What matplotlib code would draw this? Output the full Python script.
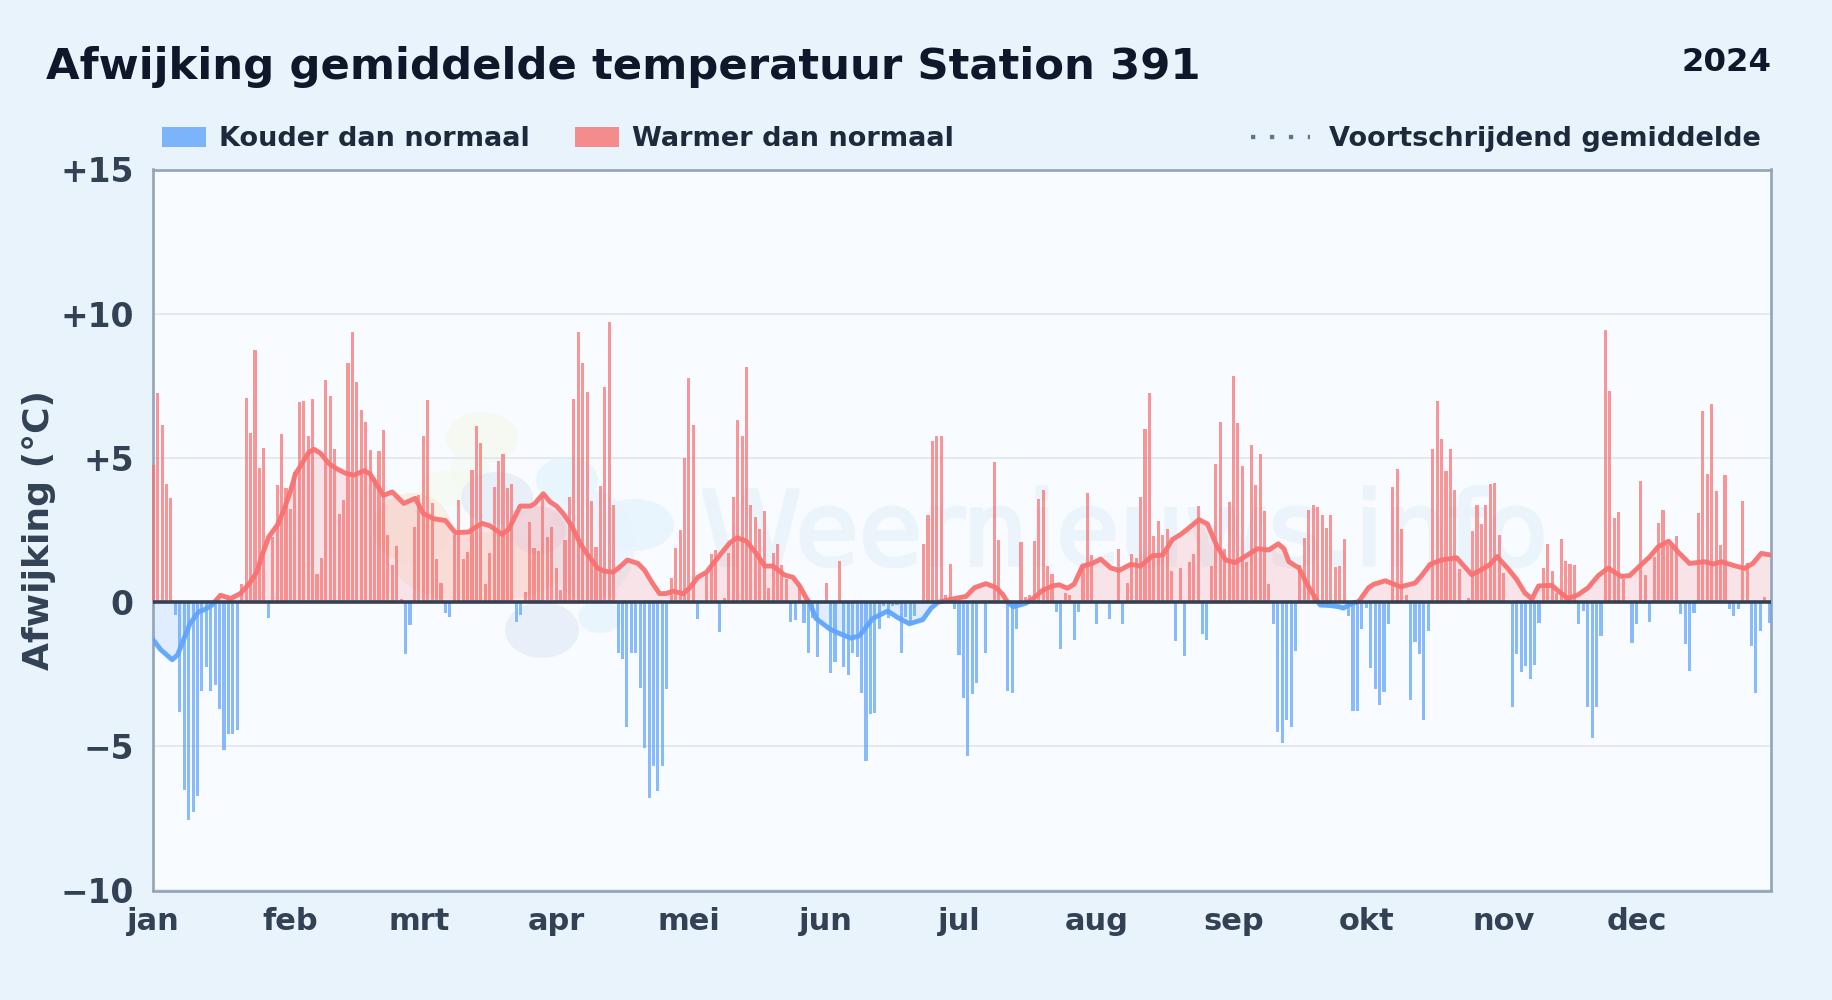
import numpy as np
import matplotlib
matplotlib.use("Agg")
import matplotlib.pyplot as plt
import matplotlib.patheffects as pe
from matplotlib.lines import Line2D
from matplotlib.patches import Ellipse, Patch, Rectangle
from matplotlib.transforms import IdentityTransform

W, H = 1832, 1000

month_labels = ["jan", "feb", "mrt", "apr", "mei", "jun", "jul", "aug", "sep", "okt", "nov", "dec"]
month_lengths = [31, 29, 31, 30, 31, 30, 31, 31, 30, 31, 30, 31]
y_ticks = [-10, -5, 0, 5, 10, 15]
y_tick_labels = ["\u221210", "\u22125", "0", "+5", "+10", "+15"]

anomaly = [
    4.76, 7.24, 6.13, 4.09, 3.60, -0.45, -3.8, -6.5, -7.55, -7.28,
    -6.72, -3.08, -2.24, -3.08, -2.88, -3.7, -5.13, -4.57, -4.57, -4.45,
    0.62, 7.06, 5.86, 8.73, 4.64, 5.33, -0.54, 2.26, 4.06, 5.82,
    3.94, 3.22, 4.5, 6.93, 6.99, 5.75, 7.04, 0.97, 1.52, 7.7,
    7.14, 5.3, 3.05, 3.53, 8.28, 9.36, 7.63, 6.67, 6.24, 5.26,
    4.3, 5.24, 5.97, 2.33, 1.29, 1.95, 0.1, -1.79, -0.79, 2.6,
    3.71, 5.75, 7.0, 3.44, 1.49, 0.66, -0.37, -0.5, 2.33, 3.53,
    1.49, 1.73, 4.57, 6.1, 5.51, 0.62, 1.69, 3.99, 4.89, 5.12,
    3.95, 4.09, -0.68, -0.45, 0.35, 2.77, 1.87, 1.77, 3.72, 2.26,
    2.6, 1.18, 0.42, 2.15, 3.64, 7.04, 9.36, 8.28, 7.28, 3.5,
    1.91, 4.02, 7.45, 9.7, 3.37, -1.77, -1.97, -4.33, -1.77, -1.77,
    -2.98, -5.05, -6.78, -5.68, -6.54, -5.7, -3.02, 0.84, 1.87, 2.49,
    4.99, 7.77, 6.13, -0.57, 0.0, 0.98, 1.66, 1.79, -1.03, 0.14,
    1.7, 3.66, 6.31, 5.75, 8.14, 3.37, 2.95, 2.53, 3.15, 0.49,
    1.69, 2.0, 1.28, 0.8, -0.69, -0.62, 0.56, -0.73, -1.77, -0.54,
    -1.91, 0.0, 0.66, -2.46, -2.06, 1.42, -2.24, -2.54, -1.77, -1.89,
    -3.14, -5.5, -3.89, -3.85, -0.93, -0.15, -0.54, -0.15, -0.1, -1.77,
    -0.5, -0.75, -0.48, 0.05, 2.0, 3.02, 5.6, 5.75, 5.75, 0.24,
    1.31, -0.25, -1.83, -3.32, -5.32, -3.17, -2.79, 0.05, -1.77, 0.0,
    4.86, 2.15, 0.0, -3.08, -3.14, -0.93, 2.08, 0.18, 0.26, 2.11,
    3.57, 3.88, 1.25, 0.97, -0.35, -1.62, 0.32, 0.26, -1.31, -0.35,
    1.3, 3.78, 1.63, -0.75, 0.0, 0.0, -0.57, 0.0, 1.84, -0.75,
    0.66, 1.66, 1.53, 3.64, 5.99, 7.24, 2.29, 2.8, 2.33, 2.53,
    1.09, -1.35, 1.18, -1.86, 1.38, 1.66, 3.33, -1.11, -1.31, 1.25,
    4.79, 6.24, 1.85, 3.46, 7.83, 6.2, 4.71, 1.4, 5.44, 4.06,
    5.13, 3.15, 0.62, -0.75, -4.52, -4.9, -4.1, -4.33, -1.68, 1.28,
    2.22, 3.19, 3.35, 3.3, 3.02, 2.57, 3.02, 1.2, 1.25, 2.18,
    -0.49, -3.76, -3.76, -0.95, -0.19, -2.3, -3.02, -3.56, -3.1, -0.75,
    3.99, 4.63, 2.53, 0.26, -3.38, -1.38, -1.79, -4.1, -0.99, 5.3,
    6.97, 5.67, 4.53, 5.3, 3.88, 1.16, 0.0, 0.14, 2.46, 3.37,
    2.71, 3.37, 4.09, 4.13, 2.33, 1.0, 0.0, -3.63, -1.79, -2.41,
    -2.21, -2.68, -2.17, -0.72, 1.18, 2.0, 1.07, 0.32, 2.18, 1.42,
    1.31, 1.29, -0.75, -0.3, -3.63, -4.7, -3.63, -1.17, 9.43, 7.31,
    2.91, 3.11, 0.8, 0.0, -1.41, -0.75, 4.19, 0.93, -0.68, 1.57,
    2.74, 3.19, 1.97, 1.92, 2.29, -0.42, -1.44, -2.38, -0.37, 3.08,
    6.62, 4.43, 6.86, 3.85, 1.97, 4.4, -0.24, -0.47, -0.23, 3.5,
    1.34, -1.51, -3.14, -0.99, 0.16, -0.72,
]

rolling_day = [
    0, 1.7, 4.3, 5.5, 6.6, 8.3, 10.3, 11.5, 13.3, 15.2, 17.5, 19.7, 21.6, 23.4, 24.6, 26.1,
    28.2, 29.5, 31, 32.1, 33.6, 35.1, 36.3, 37.8, 39.7, 41.5, 43.4, 45.3, 47.7, 49, 52, 54,
    56.6, 59.2, 61, 63.4, 66, 68.2, 71.2, 74.2, 76, 78.8, 80.3, 82.9, 85.2, 86.2, 88.1,
    89.6, 91.1, 92.6, 94.5, 96.4, 97.9, 100.5, 102, 103.9, 105.4, 107.1, 109.5, 111, 112.9,
    114.4, 115.9, 117.4, 119.7, 121.2, 123, 125, 126.5, 128.3, 130.2, 131.9, 134, 136.2,
    138.1, 140, 142.6, 144.5, 146, 147.5, 148.3, 149.7, 152.8, 155, 157.6, 159.5, 162.5,
    165.9, 168.2, 170.8, 173.8, 175.7, 177.2, 180.6, 183.6, 185.5, 188.1, 190.4, 191.9, 193,
    194.3, 197.1, 198.6, 200.9, 203.1, 204.6, 206.5, 208, 209.9, 212.1, 214, 216.3, 218.2,
    220.8, 223, 225.7, 228, 230.2, 232.1, 233.6, 236.2, 238.1, 240.3, 242.2, 244.4, 247.1,
    249.4, 252, 254.1, 255.4, 256.5, 258.8, 260.6, 262.5, 263.6, 265.9, 267.8, 268.8, 270.8,
    272.3, 274.5, 275.7, 278.3, 281.7, 285, 286.5, 288.4, 291, 294.4, 295.9, 297.8, 299.7,
    301.9, 303.5, 306, 307.9, 309.8, 311.4, 312.9, 315.9, 317.4, 319.6, 321.9, 324.1, 326.4,
    328.6, 331.6, 333.5, 335.4, 338, 339.9, 342.3, 344.4, 347, 350.4, 352.3, 354.2, 357.2,
    359.4, 361.3, 363.2, 365.4,
]
rolling_value = [
    -1.31, -1.65, -2.0, -1.83, -1.41, -0.75, -0.33, -0.27, -0.1, 0.24, 0.12, 0.3, 0.62, 1.04, 1.63, 2.26,
    2.71, 3.19, 3.84, 4.44, 4.8, 5.19, 5.3, 5.16, 4.8, 4.62, 4.47, 4.4, 4.56, 4.44, 3.7, 3.82,
    3.42, 3.6, 3.07, 2.89, 2.83, 2.41, 2.43, 2.73, 2.65, 2.35, 2.53, 3.33, 3.33, 3.42, 3.76,
    3.48, 3.33, 3.07, 2.65, 2.05, 1.69, 1.16, 1.07, 1.04, 1.22, 1.46, 1.34, 1.1, 0.62,
    0.29, 0.3, 0.38, 0.29, 0.5, 0.86, 1.04, 1.34, 1.69, 2.05, 2.23, 2.11, 1.69,
    1.25, 1.25, 0.94, 0.86, 0.56, 0.14, -0.04, -0.57, -0.93, -1.09, -1.25, -1.17, -0.57,
    -0.31, -0.54, -0.75, -0.61, -0.21, -0.01, 0.11, 0.2, 0.5, 0.64, 0.5, 0.26, -0.01,
    -0.16, -0.04, 0.11, 0.41, 0.56, 0.6, 0.48, 0.62, 1.25, 1.34, 1.49, 1.18, 1.1,
    1.31, 1.25, 1.61, 1.63, 2.17, 2.35, 2.53, 2.86, 2.71, 1.93, 1.46, 1.37, 1.63,
    1.85, 1.81, 2.02, 1.85, 1.4, 1.18, 0.62, 0.14, -0.1, -0.12, -0.16, -0.21, -0.04,
    0.02, 0.5, 0.62, 0.74, 0.53, 0.66, 0.92, 1.31, 1.46, 1.54, 1.28, 0.95, 1.1,
    1.3, 1.58, 1.16, 0.8, 0.32, 0.11, 0.56, 0.58, 0.38, 0.12, 0.26, 0.5, 0.92,
    1.18, 0.89, 0.92, 1.2, 1.57, 1.92, 2.11, 1.74, 1.34, 1.4, 1.32, 1.4, 1.26,
    1.17, 1.34, 1.69, 1.63,
]
assert len(anomaly) == 366 and len(rolling_day) == len(rolling_value)

BG = "#e8f3fc"
PLOT_BG = "#f8fbff"
RED = "#f87171"
BLUE = "#60a5fa"
INK = "#0f172a"
LABEL = "#1e293b"
TICK = "#334155"

plt.rcParams["font.family"] = "DejaVu Sans"
fig = plt.figure(figsize=(W / 100, H / 100), dpi=100, facecolor=BG)
ax = fig.add_axes([152.5 / W, 1 - 890.5 / H, (1771 - 152.5) / W, (890.5 - 169.5) / H], facecolor=PLOT_BG)

days = np.arange(len(anomaly))
vals = np.array(anomaly)
rd = np.array(rolling_day)
rv = np.array(rolling_value)

X0, X1 = -0.16, 365.4
ax.set_xlim(X0, X1)
ax.set_ylim(-10, 15)

# faint logo + wordmark behind the data (pixel centre x, y, width, height, colour)
blobs = [
    (482, 438, 72, 52, "#f4f9ee"), (448, 488, 60, 36, "#f5faf1"), (470, 470, 40, 50, "#f5faf1"),
    (412, 528, 78, 70, "#f9ebdf"), (480, 567, 170, 70, "#fbeee6"),
    (497, 498, 72, 52, "#e3ecf8"), (567, 480, 62, 46, "#e5f3fd"),
    (635, 525, 78, 52, "#e5f3fd"), (590, 545, 90, 110, "#e8f4fd"),
    (538, 530, 56, 48, "#ece4ee"), (542, 630, 74, 56, "#e3ecf6"), (600, 617, 44, 32, "#e5f3fd"),
]
for bx, by, bw, bh, bc in blobs:
    ax.add_patch(Ellipse((bx, H - by), bw, bh, transform=IdentityTransform(), facecolor=bc,
                         edgecolor="none", alpha=0.75, zorder=0.4))
ax.text(700, H - 565, "Weernieuws.info", transform=IdentityTransform(), fontsize=74,
        color="#ebf3fb", va="baseline", ha="left", zorder=0.6,
        path_effects=[pe.withStroke(linewidth=2.5, foreground="#ebf3fb")])

ax.set_yticks(y_ticks, y_tick_labels)
ax.set_xticks(np.cumsum([0] + month_lengths[:-1]), month_labels)
ax.grid(axis="y", color="#e2e8f0", lw=1.3, zorder=1)
ax.grid(axis="x", visible=False)
ax.set_axisbelow(True)
ax.tick_params(axis="y", length=0, pad=13.5, labelsize=23.7, labelcolor=TICK)
ax.tick_params(axis="x", length=0, pad=12, labelsize=22, labelcolor=TICK)
for t in ax.get_xticklabels() + ax.get_yticklabels():
    t.set_fontweight("bold")
for s in ax.spines.values():
    s.set_color("#94a3b8")
    s.set_linewidth(1.9)
    s.set_zorder(2.5)

upper = Rectangle((X0, 0), X1 - X0, 15, transform=ax.transData)
lower = Rectangle((X0, -10), X1 - X0, 10, transform=ax.transData)

f1 = ax.fill_between(rd, rv, 0, color=RED, alpha=0.16, lw=0, zorder=2)
f2 = ax.fill_between(rd, rv, 0, color=BLUE, alpha=0.16, lw=0, zorder=2)
f1.set_clip_path(upper)
f2.set_clip_path(lower)

ax.bar(days, vals, width=0.7, color=np.where(vals >= 0, RED, BLUE), alpha=0.74, lw=0, zorder=3,
       clip_on=False)

l1, = ax.plot(rd, rv, color=RED, lw=3.5, alpha=0.95, solid_joinstyle="round", zorder=4)
l2, = ax.plot(rd, rv, color=BLUE, lw=3.5, alpha=0.95, solid_joinstyle="round", zorder=4)
l1.set_clip_path(upper)
l2.set_clip_path(lower)

ax.axhline(0, color=TICK, lw=2.6, zorder=5)
ax.set_ylabel("Afwijking (\u00b0C)", fontsize=26, fontweight="bold", color=TICK)
ax.yaxis.set_label_coords((56 - 152.5) / (1771 - 152.5), 0.5)

fig.text(46 / W, 1 - 79 / H, "Afwijking gemiddelde temperatuur Station 391", fontsize=31.25,
         fontweight="bold", color=INK, ha="left", va="baseline")
fig.text(1771 / W, 1 - 71 / H, "2024", fontsize=23.3, fontweight="bold", color=INK, ha="right", va="baseline")

leg_font = {"size": 19.55, "weight": "bold"}
leg1 = fig.legend(
    handles=[Patch(facecolor=BLUE, alpha=0.8, lw=0, label="Kouder dan normaal"),
             Patch(facecolor=RED, alpha=0.8, lw=0, label="Warmer dan normaal")],
    loc="center left", bbox_to_anchor=(162 / W, 1 - 139.5 / H), ncol=2, frameon=False, prop=leg_font,
    borderpad=0, borderaxespad=0, handlelength=1.62, handleheight=0.72, handletextpad=0.48,
    columnspacing=1.65, labelcolor=LABEL)
leg2 = fig.legend(
    handles=[Line2D([0], [0], color="#64748b", lw=3.1, linestyle=(0, (1, 3.4)),
                    dash_capstyle="butt", label="Voortschrijdend gemiddelde")],
    loc="center right", bbox_to_anchor=(1761 / W, 1 - 139.5 / H), frameon=False, prop=leg_font,
    borderpad=0, borderaxespad=0, handlelength=2.15, handletextpad=0.72, labelcolor=LABEL)

fig.savefig("out.png", dpi=100, facecolor=BG)
